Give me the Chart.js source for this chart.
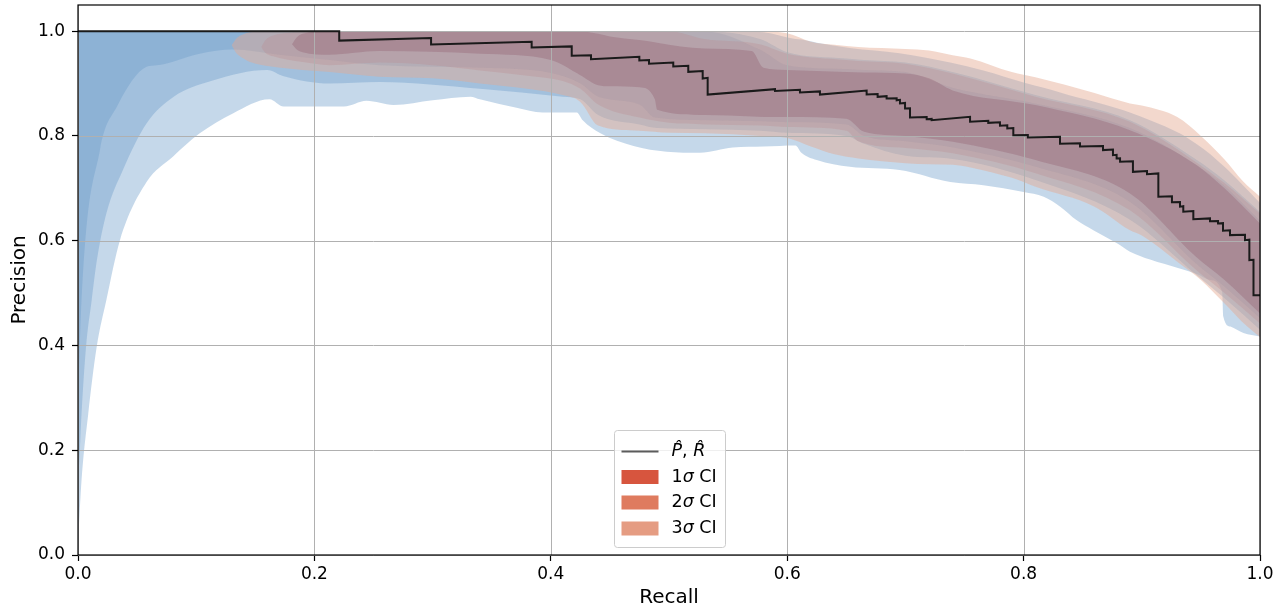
<!DOCTYPE html>
<html>
<head>
<meta charset="utf-8">
<script src="https://cdn.jsdelivr.net/npm/chart.js@4.4.1/dist/chart.umd.min.js"></script>
<style>
  html, body { margin: 0; padding: 0; background: #ffffff; }
  canvas { display: block; }
</style>
</head>
<body>
<canvas id="pr" width="1286" height="613"></canvas>
<script>
// ---- axis ticks ----
const recallTicks = [0, 0.2, 0.4, 0.6, 0.8, 1.0];
const precisionTicks = [0, 0.2, 0.4, 0.6, 0.8, 1.0];

// ---- empirical precision-recall curve (step vertices) ----
const curveRecall = [0, 0.221, 0.221, 0.2987, 0.2987, 0.3838, 0.3838, 0.4177, 0.4177, 0.434, 0.434, 0.4749, 0.4749, 0.4831, 0.4831, 0.5036, 0.5036, 0.5163, 0.5163, 0.5285, 0.5285, 0.5327, 0.5327, 0.5897, 0.5897, 0.6108, 0.6108, 0.6277, 0.6277, 0.6672, 0.6672, 0.6765, 0.6765, 0.6841, 0.6841, 0.6926, 0.6926, 0.6954, 0.6954, 0.6997, 0.6997, 0.7039, 0.7039, 0.718, 0.718, 0.7222, 0.7222, 0.7547, 0.7547, 0.7701, 0.7701, 0.78, 0.78, 0.7862, 0.7862, 0.7913, 0.7913, 0.8036, 0.8036, 0.8308, 0.8308, 0.8477, 0.8477, 0.8672, 0.8672, 0.8756, 0.8756, 0.8787, 0.8787, 0.8816, 0.8816, 0.8925, 0.8925, 0.9044, 0.9044, 0.914, 0.914, 0.9255, 0.9255, 0.9323, 0.9323, 0.9351, 0.9351, 0.9436, 0.9436, 0.9577, 0.9577, 0.9645, 0.9645, 0.9687, 0.9687, 0.9746, 0.9746, 0.9873, 0.9873, 0.991, 0.991, 0.9945, 0.9945, 1.0];
const curvePrecision = [1.0, 1.0, 0.982, 0.987, 0.9746, 0.980, 0.969, 0.971, 0.953, 0.954, 0.9466, 0.951, 0.944, 0.945, 0.938, 0.940, 0.9325, 0.934, 0.9224, 0.924, 0.9097, 0.911, 0.879, 0.8893, 0.886, 0.888, 0.883, 0.885, 0.879, 0.8868, 0.879, 0.880, 0.8747, 0.876, 0.8715, 0.872, 0.868, 0.869, 0.862, 0.863, 0.8524, 0.853, 0.8353, 0.836, 0.832, 0.8325, 0.8302, 0.8365, 0.827, 0.829, 0.825, 0.826, 0.8195, 0.8205, 0.8143, 0.815, 0.8015, 0.802, 0.797, 0.7985, 0.785, 0.786, 0.780, 0.781, 0.773, 0.774, 0.7634, 0.764, 0.757, 0.7575, 0.7506, 0.7515, 0.7315, 0.733, 0.727, 0.7285, 0.684, 0.685, 0.6735, 0.674, 0.665, 0.666, 0.6552, 0.6565, 0.641, 0.6426, 0.637, 0.6375, 0.633, 0.6335, 0.619, 0.620, 0.6107, 0.6115, 0.601, 0.602, 0.563, 0.5635, 0.496, 0.496];

// ---- blue uncertainty bands (3 sigma, 2 sigma, 1 sigma) ----
const blue3Recall = [0, 0.003, 0.0087, 0.0158, 0.024, 0.0355, 0.058, 0.080, 0.103, 0.131, 0.162, 0.174, 0.225, 0.244, 0.267, 0.30, 0.332, 0.34, 0.371, 0.393, 0.422, 0.427, 0.442, 0.47, 0.498, 0.526, 0.554, 0.58, 0.607, 0.612, 0.625, 0.653, 0.695, 0.738, 0.766, 0.80, 0.817, 0.831, 0.845, 0.859, 0.879, 0.89, 0.907, 0.932, 0.946, 0.958, 0.968, 0.969, 0.975, 0.986, 1.0];
const blue3Upper = [1, 1, 1, 1, 1, 1, 1, 1, 1, 1, 1, 1, 1, 1, 1, 1, 1, 1, 1, 1, 1, 1, 1, 1, 1, 1, 1, 0.998, 0.985, 0.984, 0.978, 0.968, 0.958, 0.94, 0.925, 0.902, 0.892, 0.883, 0.874, 0.866, 0.853, 0.845, 0.83, 0.805, 0.785, 0.765, 0.745, 0.743, 0.73, 0.705, 0.672];
const blue3Lower = [0.02, 0.143, 0.27, 0.397, 0.487, 0.601, 0.712, 0.76, 0.805, 0.843, 0.870, 0.856, 0.856, 0.867, 0.859, 0.868, 0.875, 0.870, 0.854, 0.845, 0.845, 0.83, 0.805, 0.781, 0.770, 0.768, 0.778, 0.78, 0.782, 0.768, 0.754, 0.741, 0.735, 0.712, 0.706, 0.693, 0.684, 0.665, 0.639, 0.62, 0.595, 0.579, 0.564, 0.547, 0.537, 0.525, 0.502, 0.455, 0.436, 0.424, 0.417];

const blue2Recall = [0, 0.001, 0.003, 0.0068, 0.0116, 0.016, 0.024, 0.038, 0.058, 0.081, 0.114, 0.16, 0.174, 0.213, 0.255, 0.34, 0.41, 0.425, 0.44, 0.475, 0.49, 0.53, 0.577, 0.60, 0.65, 0.665, 0.70, 0.74, 0.81, 0.89, 0.946, 0.97, 1.0];
const blue2Upper = [1, 1, 1, 1, 1, 1, 1, 1, 1, 1, 1, 1, 1, 1, 1, 1, 1, 1, 1, 1, 1, 1, 0.985, 0.96, 0.948, 0.945, 0.94, 0.922, 0.878, 0.83, 0.755, 0.715, 0.655];
const blue2Lower = [0.15, 0.175, 0.27, 0.397, 0.487, 0.563, 0.652, 0.735, 0.824, 0.875, 0.906, 0.926, 0.914, 0.90, 0.903, 0.89, 0.875, 0.87, 0.84, 0.822, 0.815, 0.813, 0.81, 0.806, 0.80, 0.785, 0.762, 0.756, 0.716, 0.64, 0.535, 0.49, 0.43];

const blue1Recall = [0, 0.003, 0.0186, 0.033, 0.058, 0.067, 0.103, 0.131, 0.17, 0.213, 0.255, 0.34, 0.40, 0.425, 0.44, 0.475, 0.488, 0.53, 0.577, 0.60, 0.65, 0.665, 0.70, 0.74, 0.81, 0.89, 0.946, 0.97, 1.0];
const blue1Upper = [1, 1, 1, 1, 1, 1, 1, 1, 1, 1, 1, 1, 1, 1, 1, 1, 1, 1, 0.965, 0.935, 0.928, 0.926, 0.922, 0.892, 0.862, 0.815, 0.745, 0.705, 0.638];
const blue1Lower = [0.28, 0.487, 0.773, 0.856, 0.932, 0.935, 0.957, 0.965, 0.955, 0.945, 0.935, 0.93, 0.92, 0.90, 0.875, 0.86, 0.835, 0.83, 0.828, 0.826, 0.822, 0.80, 0.79, 0.778, 0.741, 0.674, 0.556, 0.512, 0.452];

// ---- red confidence intervals (3 sigma, 2 sigma, 1 sigma) ----
const red3Recall = [0.130, 0.134, 0.140, 0.1455, 0.165, 0.19, 0.213, 0.255, 0.30, 0.34, 0.38, 0.41, 0.425, 0.44, 0.475, 0.50, 0.53, 0.577, 0.60, 0.62, 0.64, 0.66, 0.70, 0.72, 0.74, 0.755, 0.79, 0.81, 0.86, 0.89, 0.90, 0.93, 0.95, 0.97, 0.985, 1.0];
const red3Upper = [0.973, 0.986, 0.994, 0.998, 1, 1, 1, 1, 1, 1, 1, 1, 1, 1, 1, 1, 1, 1, 0.996, 0.98, 0.974, 0.97, 0.966, 0.963, 0.954, 0.948, 0.922, 0.912, 0.882, 0.862, 0.858, 0.836, 0.80, 0.755, 0.715, 0.684];
const red3Lower = [0.973, 0.958, 0.948, 0.941, 0.932, 0.926, 0.922, 0.913, 0.91, 0.90, 0.89, 0.878, 0.865, 0.82, 0.81, 0.806, 0.805, 0.80, 0.796, 0.78, 0.765, 0.757, 0.748, 0.746, 0.745, 0.74, 0.72, 0.703, 0.665, 0.62, 0.61, 0.56, 0.525, 0.48, 0.445, 0.416];

const red2Recall = [0.155, 0.159, 0.165, 0.19, 0.213, 0.255, 0.30, 0.34, 0.38, 0.41, 0.425, 0.44, 0.475, 0.50, 0.53, 0.577, 0.60, 0.65, 0.66, 0.70, 0.74, 0.81, 0.89, 0.946, 0.97, 1.0];
const red2Upper = [0.97, 0.984, 0.992, 0.998, 1, 1, 1, 1, 1, 1, 1, 1, 1, 1, 0.985, 0.975, 0.957, 0.945, 0.943, 0.938, 0.919, 0.875, 0.827, 0.75, 0.71, 0.652];
const red2Lower = [0.97, 0.958, 0.952, 0.941, 0.935, 0.94, 0.935, 0.925, 0.915, 0.905, 0.89, 0.86, 0.835, 0.825, 0.822, 0.82, 0.817, 0.81, 0.79, 0.777, 0.767, 0.729, 0.658, 0.544, 0.50, 0.442];

const red1Recall = [0.181, 0.185, 0.19, 0.213, 0.255, 0.34, 0.40, 0.425, 0.44, 0.45, 0.475, 0.488, 0.49, 0.53, 0.57, 0.58, 0.60, 0.65, 0.665, 0.70, 0.72, 0.74, 0.81, 0.89, 0.946, 0.97, 1.0];
const red1Upper = [0.975, 0.988, 0.995, 1, 1, 1, 1, 1, 0.995, 0.99, 0.983, 0.979, 0.978, 0.967, 0.962, 0.93, 0.926, 0.922, 0.921, 0.919, 0.91, 0.887, 0.859, 0.811, 0.745, 0.70, 0.633];
const red1Lower = [0.975, 0.965, 0.96, 0.955, 0.962, 0.957, 0.945, 0.916, 0.897, 0.895, 0.893, 0.87, 0.85, 0.84, 0.837, 0.836, 0.836, 0.833, 0.808, 0.80, 0.795, 0.789, 0.754, 0.69, 0.569, 0.525, 0.461];

// ---- legend entries ----
const ciLabels = ['1', '2', '3'];
const ciSwatches = ['#d7553e', '#df7b5f', '#e59c82'];

// ---- fill styles ----
const blueFill = 'rgba(110,158,203,0.4)';
const redFills = ['rgba(138,82,104,0.3)', 'rgba(189,126,133,0.25)', 'rgba(228,168,144,0.45)'];
const none = 'rgba(0,0,0,0)';

const toPoints = (xs, ys) => xs.map((x, i) => ({ x, y: ys[i] }));

// one shaded interval: the upper edge fills down to the lower edge that follows it
function band(xs, upper, lower, color, order) {
  const common = {
    borderColor: none, borderWidth: 0, pointRadius: 0,
    cubicInterpolationMode: 'monotone', order
  };
  return [
    Object.assign({ data: toPoints(xs, upper), fill: '+1', backgroundColor: color }, common),
    Object.assign({ data: toPoints(xs, lower), fill: false, backgroundColor: none }, common)
  ];
}

const datasets = [
  ...band(blue3Recall, blue3Upper, blue3Lower, blueFill, 6),
  ...band(blue2Recall, blue2Upper, blue2Lower, blueFill, 5),
  ...band(blue1Recall, blue1Upper, blue1Lower, blueFill, 4),
  ...band(red3Recall, red3Upper, red3Lower, redFills[2], 3),
  ...band(red2Recall, red2Upper, red2Lower, redFills[1], 2),
  ...band(red1Recall, red1Upper, red1Lower, redFills[0], 1)
];
const curveIndex = datasets.length;
datasets.push({
  data: toPoints(curveRecall, curvePrecision),
  borderColor: '#1a1a1a', borderWidth: 2, pointRadius: 0, fill: false, tension: 0, order: 0
});

const FONT = 'DejaVu Sans';
const TICK_SIZE = 17;
const TITLE_SIZE = 20;

// grid lines sit above the bands but under the curve
const gridOnTop = {
  id: 'gridOnTop',
  beforeDatasetDraw(chart, args) {
    if (args.index !== curveIndex) return;
    const { ctx, chartArea: a, scales: { x, y } } = chart;
    ctx.save();
    ctx.strokeStyle = '#b0b0b0';
    ctx.lineWidth = 1;
    ctx.beginPath();
    recallTicks.forEach(v => {
      const px = Math.round(x.getPixelForValue(v)) + 0.5;
      ctx.moveTo(px, a.top); ctx.lineTo(px, a.bottom);
    });
    precisionTicks.forEach(v => {
      const py = Math.round(y.getPixelForValue(v)) + 0.5;
      ctx.moveTo(a.left, py); ctx.lineTo(a.right, py);
    });
    ctx.stroke();
    ctx.restore();
  }
};

// frame around the plotting area
const frame = {
  id: 'frame',
  afterDatasetsDraw(chart) {
    const { ctx, chartArea: a } = chart;
    ctx.save();
    ctx.strokeStyle = '#000';
    ctx.lineWidth = 1.2;
    ctx.strokeRect(a.left, a.top, a.right - a.left, a.bottom - a.top);
    ctx.restore();
  }
};

// legend box with the curve sample and the three interval swatches
const ciLegend = {
  id: 'ciLegend',
  afterDraw(chart) {
    const { ctx, chartArea: a } = chart;
    const w = 111, h = 117;
    const x0 = Math.round((a.left + a.right) / 2 - w / 2) + 0.5;
    const y0 = Math.round(a.bottom - 8 - h) + 0.5;
    ctx.save();
    ctx.beginPath();
    if (ctx.roundRect) ctx.roundRect(x0, y0, w, h, 3); else ctx.rect(x0, y0, w, h);
    ctx.fillStyle = 'rgba(255,255,255,0.8)';
    ctx.fill();
    ctx.strokeStyle = '#cccccc';
    ctx.lineWidth = 1;
    ctx.stroke();

    const rows = [21, 46.5, 72, 98];
    const sx = x0 + 7, sw = 37, tx = x0 + 57;
    const size = 17.5;
    const normal = `${size}px "${FONT}"`;
    const italic = `italic ${size}px "${FONT}"`;
    ctx.textBaseline = 'middle';

    const drawPieces = (pieces, x, y) => {
      pieces.forEach(([txt, f]) => {
        ctx.font = f;
        ctx.fillStyle = '#000';
        ctx.fillText(txt, x, y);
        x += ctx.measureText(txt).width;
      });
    };

    // curve sample
    const cy = y0 + rows[0];
    ctx.strokeStyle = '#5c5c5c';
    ctx.lineWidth = 2;
    ctx.beginPath();
    ctx.moveTo(sx, cy); ctx.lineTo(sx + sw, cy);
    ctx.stroke();
    drawPieces([['P\u0302', italic], [', ', normal], ['R\u0302', italic]], tx, cy);

    // interval swatches
    ciLabels.forEach((lab, i) => {
      const ry = y0 + rows[i + 1];
      ctx.fillStyle = ciSwatches[i];
      ctx.fillRect(sx, ry - 7, sw, 14);
      drawPieces([[lab, normal], ['\u03C3', italic], [' CI', normal]], tx, ry);
    });
    ctx.restore();
  }
};

new Chart(document.getElementById('pr'), {
  type: 'line',
  data: { datasets },
  options: {
    responsive: false,
    animation: false,
    events: [],
    layout: { padding: { top: 5, right: 26, left: 0, bottom: 0 } },
    plugins: { legend: { display: false }, tooltip: { enabled: false } },
    scales: {
      x: {
        type: 'linear', min: 0, max: 1,
        afterBuildTicks: s => { s.ticks = recallTicks.map(v => ({ value: v })); },
        afterFit: s => { s.height = 58; s.paddingLeft = 0; s.paddingRight = 0; },
        ticks: { callback: v => v.toFixed(1), color: '#000', font: { family: FONT, size: TICK_SIZE }, padding: 3, maxRotation: 0, autoSkip: false },
        grid: { drawOnChartArea: false, tickColor: '#000', tickLength: 6, tickWidth: 1.2 },
        border: { display: false },
        title: { display: true, text: 'Recall', color: '#000', font: { family: FONT, size: TITLE_SIZE }, padding: { top: 4, bottom: 3 } }
      },
      y: {
        type: 'linear', min: 0, max: 1.05,
        afterBuildTicks: s => { s.ticks = precisionTicks.map(v => ({ value: v })); },
        afterFit: s => { s.width = 78; s.paddingTop = 0; s.paddingBottom = 0; },
        ticks: { callback: v => v.toFixed(1), color: '#000', font: { family: FONT, size: TICK_SIZE }, padding: 7, autoSkip: false },
        grid: { drawOnChartArea: false, tickColor: '#000', tickLength: 6, tickWidth: 1.2 },
        border: { display: false },
        title: { display: true, text: 'Precision', color: '#000', font: { family: FONT, size: TITLE_SIZE }, padding: { top: 8, bottom: 4 } }
      }
    }
  },
  plugins: [gridOnTop, frame, ciLegend]
});
</script>
</body>
</html>
